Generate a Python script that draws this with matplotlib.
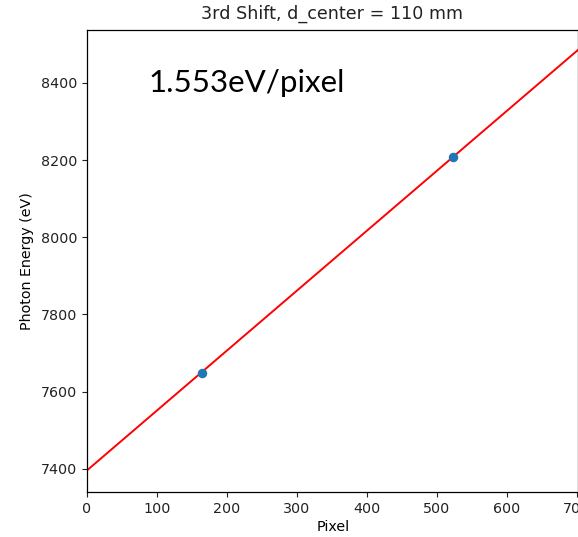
import numpy as np
import matplotlib
matplotlib.use("Agg")
import matplotlib.pyplot as plt

# Data
pixels = [164, 523]
energies = [7648, 8209]
slope = 1.553       # eV / pixel
intercept = 7396    # eV at pixel 0
fit_x = [0, 702]
annotation = "1.553eV/pixel"

W, H = 578, 537
fig = plt.figure(figsize=(W / 100, H / 100), dpi=100)

x0, x1 = 0, 702
y0, y1 = 7340, 8537
left_px, top_px, bottom_px = 87, 30, 492
px_per_unit = 0.70
width_px = (x1 - x0) * px_per_unit
ax = fig.add_axes([left_px / W, 1 - bottom_px / H, width_px / W, (bottom_px - top_px) / H])

fx = np.array(fit_x, dtype=float)
ax.plot(fx, slope * fx + intercept, color="red", lw=1.4, zorder=2)
ax.scatter(pixels, energies, s=34, color="#1f77b4", zorder=3)

ax.set_xlim(x0, x1)
ax.set_ylim(y0, y1)
ax.set_xticks([0, 100, 200, 300, 400, 500, 600, 700])
ax.set_yticks([7400, 7600, 7800, 8000, 8200, 8400])
ax.tick_params(labelsize=10.3, length=3.5, width=0.8, colors="#222222", pad=3.5)
for s in ax.spines.values():
    s.set_linewidth(0.9)
ax.set_xlabel("Pixel", fontsize=10.3, labelpad=3)
ax.set_ylabel("Photon Energy (eV)", fontsize=10.3, labelpad=5)

fig.text(332 / W, 1 - 14 / H, "3rd Shift, d_center = 110 mm", fontsize=12.6,
         ha="center", va="center", color="#222222")

fig.text(148 / W, 1 - 83 / H, annotation, fontsize=22.5, family="Lato",
         ha="left", va="center", color="black")

fig.savefig("out.png", dpi=100)
